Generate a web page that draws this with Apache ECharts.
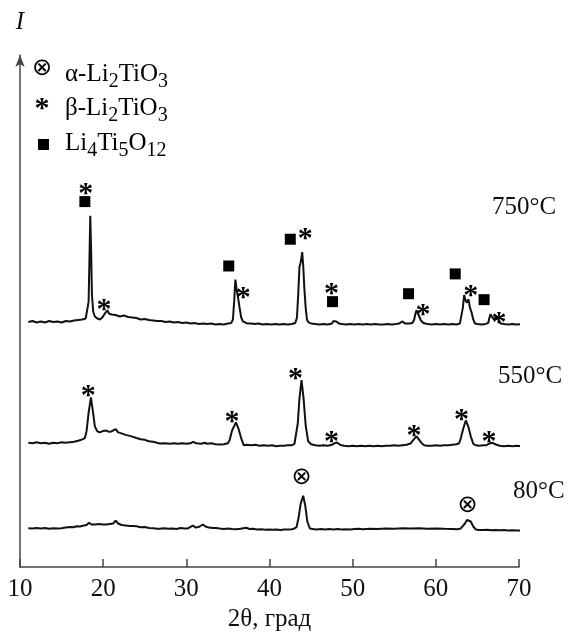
<!DOCTYPE html>
<html>
<head>
<meta charset="utf-8">
<script src="https://cdn.jsdelivr.net/npm/echarts/dist/echarts.min.js"></script>
<style>
  html, body { margin: 0; padding: 0; background: #fff; }
  #chart { width: 572px; height: 637px; }
</style>
</head>
<body>
<div id="chart"></div>
<script>
// XRD patterns, [2theta, intensity] (intensity already shifted for stacking)
const xrd750 = [
  [11.0,247.5],[11.5,248.5],[12.0,247],[12.5,248],[13.0,247],[13.5,248.5],[14.0,247.5],[14.5,248],
  [15.0,247],[15.5,248.5],[16.0,248],[16.5,249],[17.0,249.5],[17.5,250],[17.9,251],[18.1,253],
  [18.25,268],[18.35,310],[18.45,354.7],[18.55,320],[18.65,275],[18.8,258],[19.0,253],[19.3,251],
  [19.6,250],[19.9,252],[20.2,256],[20.5,259.3],[20.7,256],[21.0,255],[21.5,254.5],[22.0,253],
  [22.5,254],[23.0,252.5],[23.5,252],[24.0,251.5],[24.5,250],[25.0,250.5],[25.5,249.5],[26.0,249],
  [26.5,248.5],[27.0,248.5],[27.5,247.5],[28.0,248],[28.5,247],[29.0,247.5],[29.5,246.5],[30.0,247],
  [30.5,246],[31.0,246.5],[31.5,245.5],[32.0,246],[32.5,245.5],[33.0,246],[33.5,245],[34.0,245.5],
  [34.5,245],[35.0,246],[35.4,246.5],[35.6,250],[35.75,268],[35.9,290.3],[36.05,280],[36.2,273],
  [36.4,262],[36.6,252],[36.8,248],[37.0,246.5],[37.3,246],[37.5,247.5],[37.8,246],[38.2,245.5],
  [38.7,246],[39.2,245],[39.7,245.5],[40.2,245],[40.7,245.5],[41.2,245],[41.7,245.5],[42.2,245],
  [42.7,245.5],[43.1,246.5],[43.3,252],[43.45,275],[43.6,303],[43.7,306],[43.8,310],[43.93,318],
  [44.05,305],[44.2,280],[44.35,262],[44.5,250],[44.7,247],[45.0,246],[45.5,245.5],[46.0,245],
  [46.5,245.5],[47.0,245],[47.5,246],[47.7,248.5],[47.86,250.3],[48.0,248],[48.15,248.5],[48.35,246],
  [48.7,245.5],[49.2,245],[49.7,245.5],[50.2,245],[50.7,245.5],[51.2,245],[51.7,245.5],[52.2,245],
  [52.7,245.5],[53.2,245],[53.7,245],[54.2,245.5],[54.7,245],[55.2,245.5],[55.6,246],[56.0,248],
  [56.3,246],[56.8,246],[57.2,246.5],[57.4,250],[57.55,256],[57.68,259.3],[57.85,256],[58.0,253],
  [58.2,249],[58.5,246.5],[59.0,245.5],[59.5,245],[60.0,245.5],[60.5,245],[61.0,245.5],[61.5,245],
  [62.0,245.5],[62.5,245],[62.9,246],[63.1,248],[63.25,262],[63.4,274.7],[63.55,270],[63.7,267],
  [63.93,270.3],[64.1,262],[64.3,257],[64.5,250],[64.7,246],[65.0,245.5],[65.5,245],[66.0,245.5],
  [66.3,246.5],[66.45,252],[66.57,255.3],[66.75,252.5],[67.0,250],[67.3,253],[67.5,250],[67.8,246],
  [68.2,245.5],[68.7,245],[69.2,245.5],[69.7,245],[70.3,245.3]
]

const xrd550 = [
  [11.0,125.5],[11.5,125],[12.0,126],[12.5,125],[13.0,125.5],[13.5,124.5],[14.0,125.5],[14.5,125],
  [15.0,126],[15.5,125.5],[16.0,126],[16.5,126.5],[17.0,127.5],[17.5,129],[17.8,130.3],[18.0,137],
  [18.25,156],[18.53,171.3],[18.8,155],[19.0,142],[19.3,137],[19.6,136],[20.0,137.5],[20.3,138],
  [20.7,136.5],[21.0,137],[21.5,139.3],[21.8,136],[22.2,135],[22.7,133.5],[23.2,132.5],[23.6,131.5],
  [24.0,130.3],[24.5,129],[25.0,128.5],[25.5,127],[26.0,126.5],[26.8,124.7],[27.5,125],[28.0,124.5],
  [28.5,125],[29.0,124.5],[29.5,125],[30.0,124.5],[30.5,125],[30.8,126.5],[31.2,125],[31.8,124.5],
  [32.2,125.5],[32.5,124.5],[33.0,125],[33.5,124],[34.0,123.7],[34.5,124],[35.0,125],[35.2,128],
  [35.5,138],[35.96,146],[36.3,139],[36.6,130],[36.9,123],[37.3,123.5],[37.8,123],[38.3,123.5],
  [38.8,122.5],[39.3,123],[39.8,122.5],[40.3,123],[40.8,122],[41.25,122.5],[41.7,122.5],[42.2,123],
  [42.7,123],[43.0,124.5],[43.17,126],[43.4,145],[43.6,170],[43.85,188.7],[44.1,170],[44.35,143],
  [44.65,127],[45.0,124],[45.5,123],[46.0,122.5],[46.5,123],[47.0,122.5],[47.5,123.5],[47.8,125],
  [48.06,126],[48.3,125],[48.6,123],[49.0,122.5],[49.5,122],[50.0,122.5],[50.5,122],[51.0,122.5],
  [51.5,122],[52.0,122.5],[52.5,122],[53.0,122.5],[53.5,122],[54.0,122.5],[54.5,122.5],[55.0,123],
  [55.5,122.5],[56.0,123],[56.5,123.5],[57.0,125],[57.3,128.5],[57.68,132],[58.0,128.5],[58.3,125],
  [58.6,123],[59.0,122.5],[59.5,122.5],[60.0,123],[60.5,122.5],[61.0,123],[61.5,123],[62.0,123.5],
  [62.5,124],[62.8,125],[63.0,130],[63.3,140],[63.6,148],[63.9,142],[64.2,132],[64.5,124.5],
  [64.8,123],[65.2,122.5],[65.7,123],[66.1,123],[66.35,124.5],[66.57,126],[66.8,125.5],[67.0,125],
  [67.3,123.5],[67.7,122.5],[68.2,122],[68.7,122.5],[69.2,122],[69.7,122.5],[70.3,122]
]

const xrd80 = [
  [11.0,39.3],[11.5,39],[12.0,39.5],[12.5,39],[13.0,39.5],[13.5,38.8],[14.0,39.3],[14.5,39],
  [15.0,39.3],[15.5,40],[16.0,40.5],[16.4,40.3],[16.8,41.3],[17.2,41],[17.7,42],[18.0,42.5],
  [18.3,44.7],[18.6,43],[19.0,43],[19.5,43.5],[20.0,43],[20.4,43],[20.8,43.5],[21.2,44],
  [21.5,47],[21.8,44],[22.2,42.5],[22.7,42],[23.2,41.5],[23.6,41.5],[24.0,41.3],[24.5,40.3],
  [25.0,40.5],[25.5,39.5],[26.0,39.3],[26.5,38.7],[26.8,38.7],[27.3,39.3],[27.8,38.7],[28.3,39],
  [28.8,38.5],[29.3,39.5],[29.8,39],[30.2,39],[30.5,40.5],[30.8,42],[31.1,40],[31.5,40.5],
  [32.0,43],[32.3,41],[32.7,40],[33.2,39.5],[33.6,39.5],[34.0,39],[34.5,38.5],[35.0,39],
  [35.5,38.5],[36.0,38.3],[36.5,38.7],[37.2,39.7],[37.6,38.5],[38.0,38.7],[38.5,38],[39.0,38.3],
  [39.5,37.8],[40.0,38],[40.4,37.7],[40.8,38],[41.3,37.5],[41.8,38],[42.3,38],[42.7,38.3],
  [43.0,39],[43.25,40.3],[43.5,50],[43.75,64],[44.05,72],[44.3,62],[44.55,46],[44.85,39],
  [45.2,38.5],[45.7,38],[46.2,38.5],[46.7,38],[47.2,38.5],[47.7,38],[48.2,38.5],[48.7,38],
  [49.2,38.3],[49.7,38],[50.2,38.5],[50.7,38.7],[51.2,38.3],[52.1,38.7],[53.0,38.5],[54.0,39],
  [55.0,38.7],[56.0,39.3],[57.0,39],[58.0,39.3],[59.0,38.7],[60.0,39],[61.0,38.7],[62.0,38.5],
  [62.6,38.3],[63.0,39],[63.2,40],[63.5,44],[63.75,47.5],[63.97,49.3],[64.2,46],[64.5,41],
  [64.8,38],[65.2,37.5],[65.7,37.5],[66.2,37.8],[66.7,37.3],[67.2,37.5],[67.7,37.2],[68.2,37.5],
  [68.7,37],[69.2,37.3],[69.7,37],[70.3,37]
]

// phase markers above the peaks
const betaMarks = [
  [17.9,385],[20.1,268],[36.85,281],[44.3,340],[47.46,285],[58.47,263],[64.2,283],[67.6,255],
  [18.2,182],[35.5,155],[43.14,199],[47.46,135],[57.36,141],[63.09,157],[66.4,135]
]
const spinelMarks = [[17.8,369],[35.1,304],[42.5,331],[47.58,268],[56.72,276],[62.33,296],[65.8,270]]
const alphaMarks = [[43.86,90],[63.8,62]]

const xTicks = [10, 20, 30, 40, 50, 60, 70]
const tempLabels = ['750°C', '550°C', '80°C']

const serif = 'Liberation Serif'
const chart = echarts.init(document.getElementById('chart'))

// rich text style for the formulas with subscripts
const formulaRich = {
  t: { fontFamily: serif, fontSize: 25, lineHeight: 26, verticalAlign: 'top', color: '#111' },
  s: { fontFamily: serif, fontSize: 20, lineHeight: 40, verticalAlign: 'middle', color: '#111' }
}

function markSeries(data, glyph, size, font, weight, dy) {
  return {
    type: 'scatter',
    data: data,
    symbolSize: 0,
    z: 5,
    silent: true,
    itemStyle: { opacity: 1 },
    label: {
      show: true,
      position: 'inside',
      formatter: glyph,
      fontFamily: font,
      fontWeight: weight,
      fontSize: size,
      color: '#000',
      opacity: 1,
      offset: [0, dy]
    }
  }
}

function curve(data) {
  return {
    type: 'line',
    data: data,
    showSymbol: false,
    smooth: false,
    lineStyle: { color: '#111', width: 2 },
    z: 3
  }
}

const option = {
  animation: false,
  backgroundColor: '#fff',
  grid: { left: 20, right: 53, top: 55, bottom: 65 },
  xAxis: {
    type: 'value',
    min: xTicks[0],
    max: xTicks[xTicks.length - 1],
    interval: 10,
    name: '2θ, град',
    nameLocation: 'middle',
    nameGap: 36,
    nameTextStyle: { fontFamily: serif, fontSize: 25, color: '#111' },
    axisLine: { lineStyle: { color: '#444', width: 1.5 } },
    axisTick: { inside: true, length: 8, lineStyle: { color: '#444', width: 1.5 } },
    axisLabel: { margin: 10, fontFamily: serif, fontSize: 25, color: '#111' },
    splitLine: { show: false }
  },
  yAxis: {
    type: 'value',
    min: 0,
    max: 517,
    name: 'I',
    nameLocation: 'end',
    nameGap: 20,
    nameTextStyle: { fontFamily: serif, fontStyle: 'italic', fontSize: 25, color: '#111', align: 'center' },
    axisLine: {
      show: true,
      symbol: ['none', 'arrow'],
      symbolSize: [7, 12],
      lineStyle: { color: '#444', width: 1.5 }
    },
    axisTick: { show: false },
    axisLabel: { show: false },
    splitLine: { show: false }
  },
  graphic: [
    { type: 'text', left: 492, top: 195, style: { text: tempLabels[0], font: '25px "Liberation Serif"', fill: '#111' } },
    { type: 'text', left: 498, top: 364, style: { text: tempLabels[1], font: '25px "Liberation Serif"', fill: '#111' } },
    { type: 'text', left: 513, top: 479, style: { text: tempLabels[2], font: '25px "Liberation Serif"', fill: '#111' } },
    // legend
    { type: 'text', x: 42, y: 69, style: { text: '⊗', font: '24px "DejaVu Sans"', fill: '#000', align: 'center', verticalAlign: 'middle' } },
    { type: 'text', x: 42, y: 109, style: { text: '*', font: 'bold 30px "Liberation Serif"', fill: '#000', align: 'center', verticalAlign: 'middle' } },
    { type: 'rect', shape: { x: 38, y: 139, width: 11, height: 11 }, style: { fill: '#000' } },
    { type: 'text', x: 65, y: 82, style: { text: '{t|α-Li}{s|2}{t|TiO}{s|3}', rich: formulaRich, verticalAlign: 'middle' } },
    { type: 'text', x: 65, y: 116, style: { text: '{t|β-Li}{s|2}{t|TiO}{s|3}', rich: formulaRich, verticalAlign: 'middle' } },
    { type: 'text', x: 65, y: 151, style: { text: '{t|Li}{s|4}{t|Ti}{s|5}{t|O}{s|12}', rich: formulaRich, verticalAlign: 'middle' } }
  ],
  series: [
    curve(xrd750),
    curve(xrd550),
    curve(xrd80),
    markSeries(betaMarks, '*', 30, serif, 'bold', 9),
    markSeries(alphaMarks, '⊗', 24, 'DejaVu Sans', 'normal', 0),
    {
      type: 'scatter',
      data: spinelMarks,
      symbol: 'rect',
      symbolSize: 11,
      itemStyle: { color: '#000', opacity: 1 },
      z: 5,
      silent: true
    }
  ]
}

chart.setOption(option)
</script>
</body>
</html>
